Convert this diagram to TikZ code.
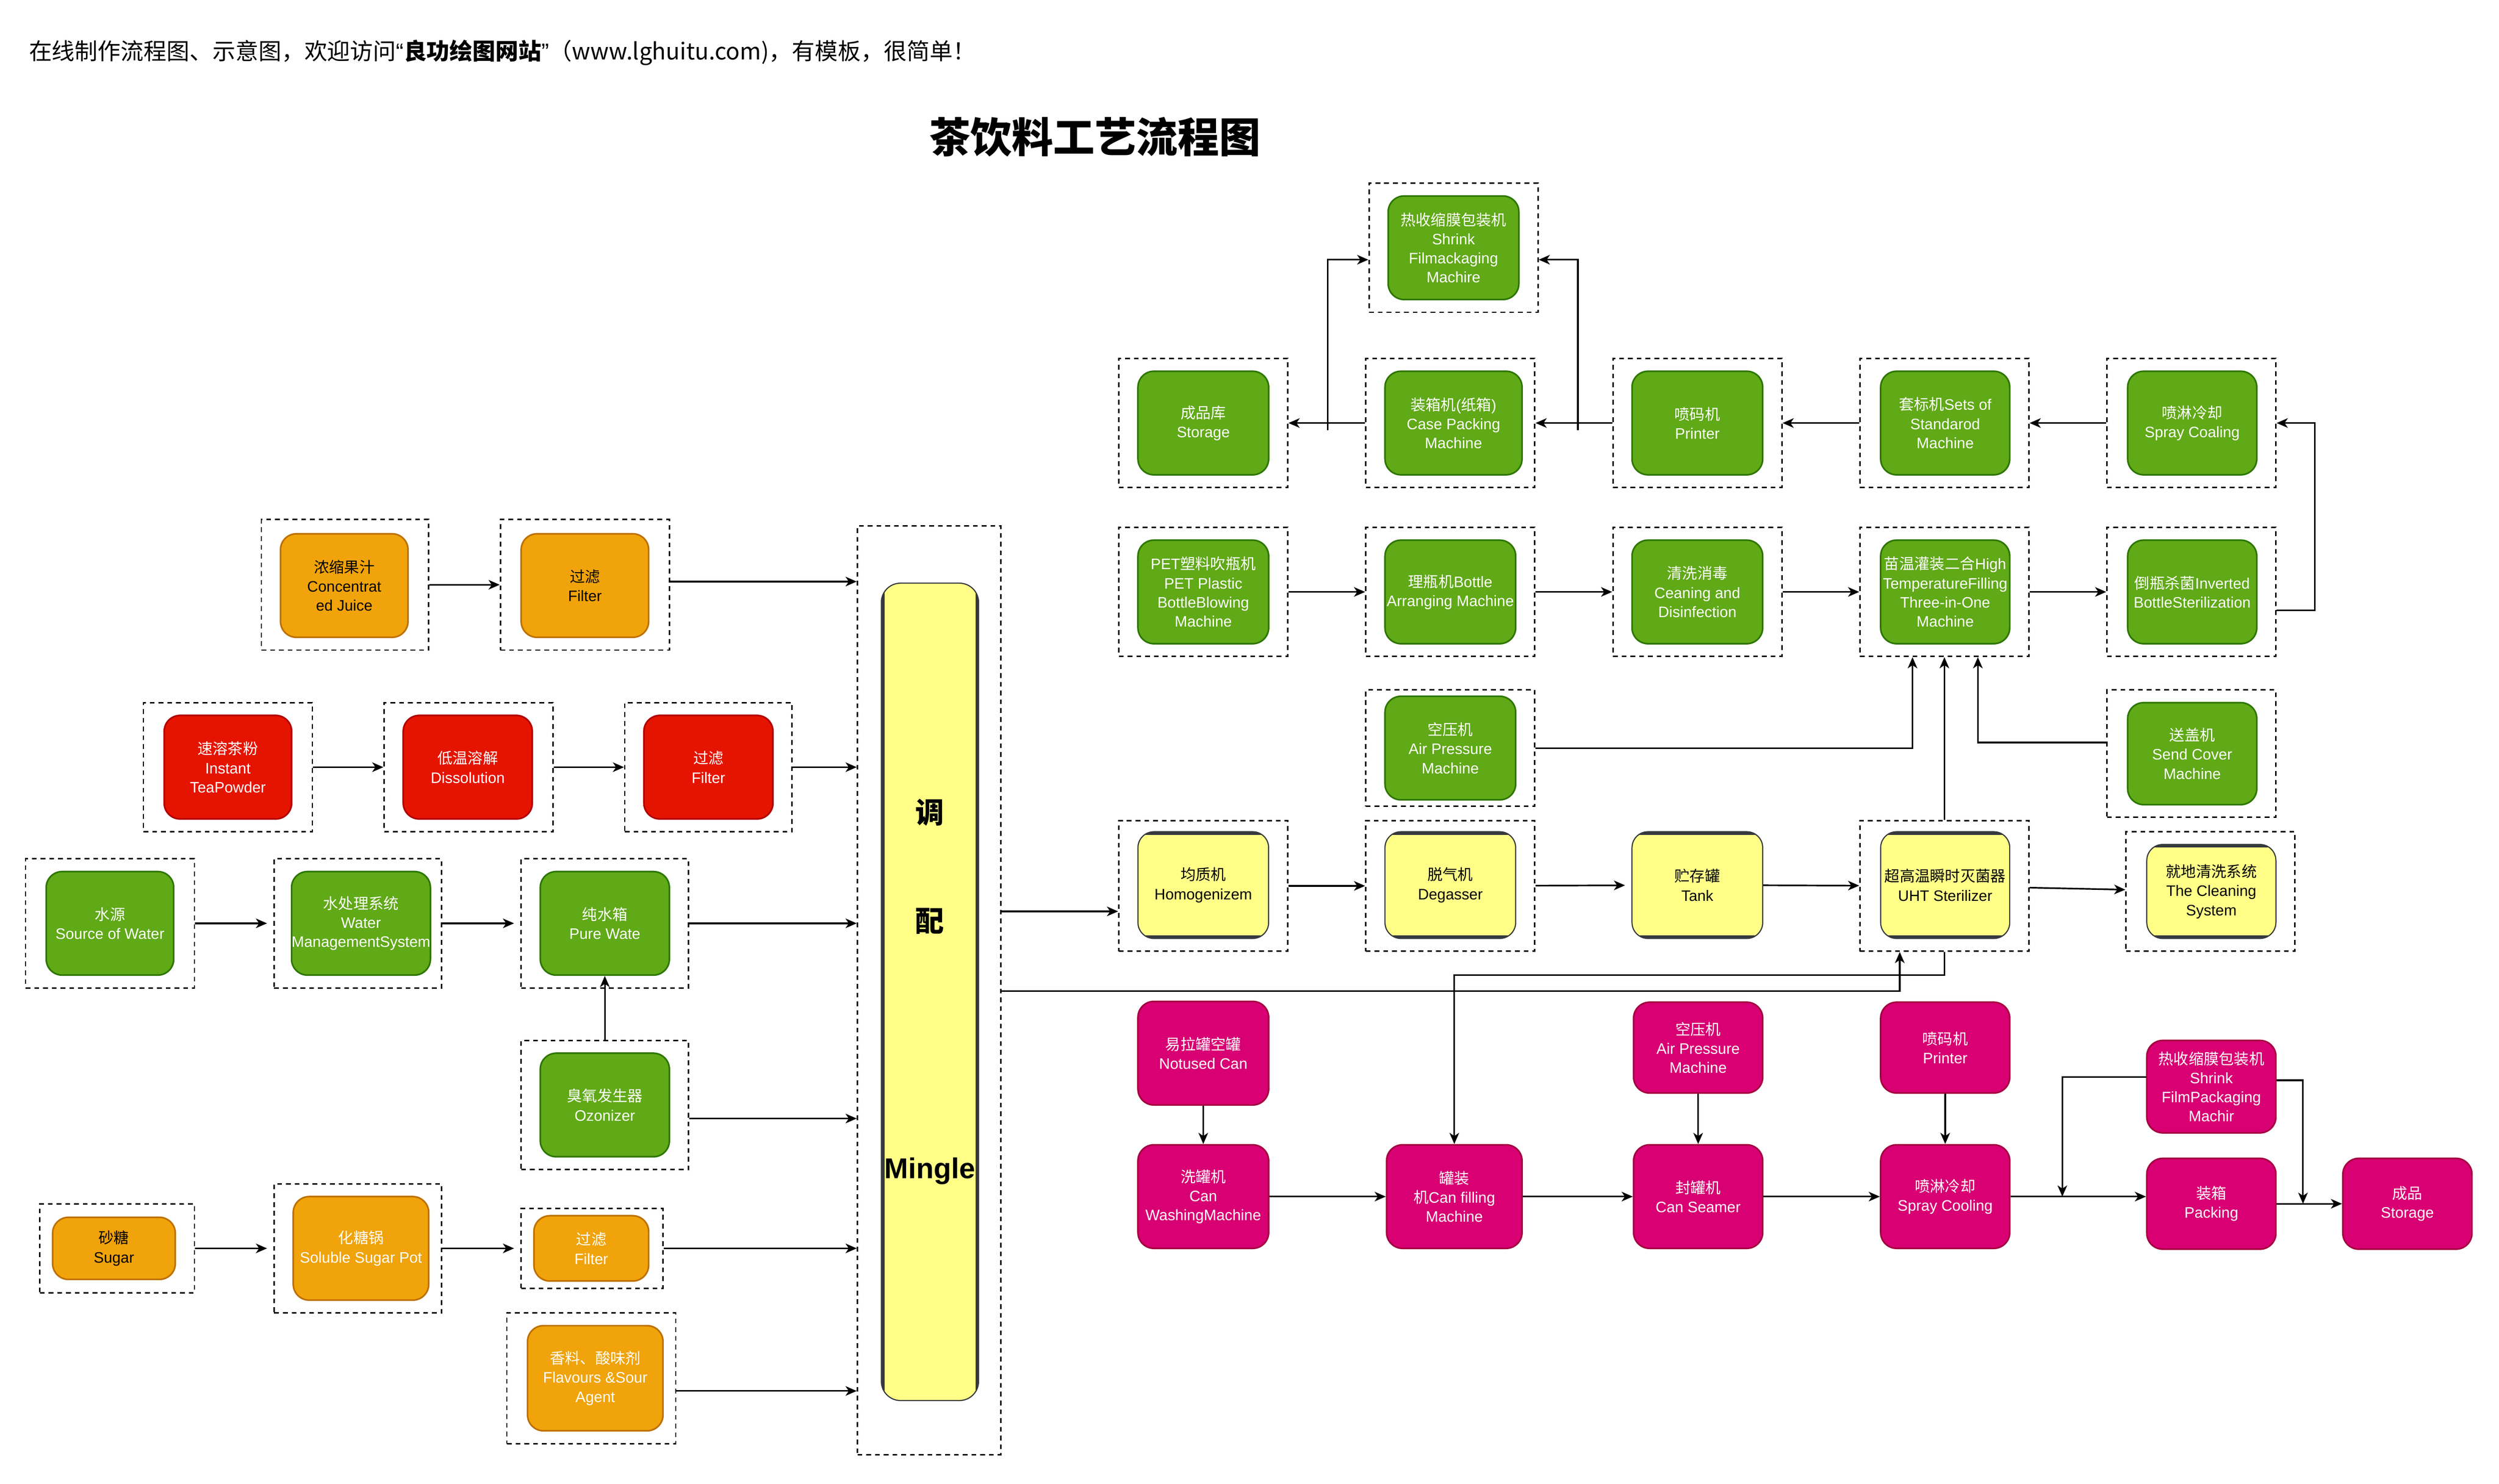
\documentclass[tikz,border=0pt]{standalone}
\usepackage{fontspec}
\setmainfont{Liberation Sans}
\newfontfamily\cjk{Noto Sans CJK SC}
\newfontfamily\latn{Liberation Sans}
\usetikzlibrary{arrows.meta,calc}
\newcommand\zh[1]{{\cjk #1}}
\definecolor{gfill}{HTML}{60A917}\definecolor{gdraw}{HTML}{2D7600}
\definecolor{ofill}{HTML}{F0A30A}\definecolor{odraw}{HTML}{BD7000}
\definecolor{rfill}{HTML}{E51400}\definecolor{rdraw}{HTML}{B20000}
\definecolor{mfill}{HTML}{D80073}\definecolor{mdraw}{HTML}{A50040}
\definecolor{yfill}{HTML}{FFFF88}\definecolor{ydraw}{HTML}{36393D}
\tikzset{
 cont/.style={draw=black, dash pattern=on 3pt off 2.5pt, line width=0.9pt, inner sep=0pt},
 wh/.style 2 args={minimum width=#1pt, minimum height=#2pt},
 basebox/.style={rounded corners=10pt, line width=1pt, align=center, font=\fontsize{9.5}{12}\selectfont, inner sep=0pt},
 gbox/.style={basebox, fill=gfill, draw=gdraw, text=white},
 obox/.style={basebox, fill=ofill, draw=odraw, text=white},
 rbox/.style={basebox, fill=rfill, draw=rdraw, text=white},
 mbox/.style={basebox, fill=mfill, draw=mdraw, text=white},
 ybox/.style={basebox, fill=yfill, draw=ydraw, text=black, line width=0.7pt,
   path picture={\draw[ydraw, line width=4pt] (path picture bounding box.north west) -- (path picture bounding box.north east) (path picture bounding box.south west) -- (path picture bounding box.south east);}},
 mixbox/.style={rounded corners=12pt, fill=yfill, draw=ydraw, line width=0.7pt, inner sep=0pt,
   path picture={\draw[ydraw, line width=4pt] (path picture bounding box.north west) -- (path picture bounding box.south west) (path picture bounding box.north east) -- (path picture bounding box.south east);}},
 mixlbl/.style={font=\bfseries\fontsize{18}{20}\selectfont, inner sep=0pt},
 arr/.style={-{Stealth[length=7pt,width=6pt,inset=2pt]}, line width=1pt},
 gap/.style={shorten >=4pt}
}
\begin{document}
\begin{tikzpicture}[x=1pt,y=-1pt]
\useasboundingbox (0,0) rectangle (1568,931.3);
\fill[white] (0,0) rectangle (1568,931.3);

% header and title
\node[anchor=west, inner sep=0pt, font=\cjk\fontsize{14.4}{16}\selectfont] (hdr) at (18,33)
 {在线制作流程图、示意图，欢迎访问{\latn “}\textbf{良功绘图网站}{\latn ”}（www.lghuitu.com)，有模板，很简单！};
\node[inner sep=0pt, font=\cjk\bfseries\fontsize{26}{30}\selectfont] (title) at (687,86) {茶饮料工艺流程图};

% level coordinates
\coordinate (yA) at (0,365);
\coordinate (yD) at (0,702);
\coordinate (yF) at (0,873);
\coordinate (yG) at (0,572);
\coordinate (yH) at (0,622);
\coordinate (yI) at (0,612);
\coordinate (yJ) at (0,383);
\coordinate (yK) at (0,466);
\coordinate (yL) at (0,163);
\coordinate (yM) at (0,676);
\coordinate (yN) at (0,678);

% ---------- left side ----------
\node[cont, wh={105}{82}] (cJuice) at (216.5,367) {};
\node[obox, text=black, wh={80}{65}] (bJuice) at (216,367.5) {\zh{浓缩果汁}\\Concentrat\\ed Juice};
\node[cont, wh={106}{82}] (cF1) at (367,367) {};
\node[obox, text=black, wh={80}{65}] (bF1) at (367,367.5) {\zh{过滤}\\Filter};

\node[cont, wh={106}{81}] (cTea) at (143,481.5) {};
\node[rbox, wh={80}{65}] (bTea) at (143,481.5) {\zh{速溶茶粉}\\Instant\\TeaPowder};
\node[cont, wh={106}{81}] (cDis) at (294,481.5) {};
\node[rbox, wh={81}{65}] (bDis) at (293.5,481.5) {\zh{低温溶解}\\Dissolution};
\node[cont, wh={105}{81}] (cF2) at (444.5,481.5) {};
\node[rbox, wh={81}{65}] (bF2) at (444.5,481.5) {\zh{过滤}\\Filter};

\node[cont, wh={106}{81}] (cSrc) at (69,579.5) {};
\node[gbox, wh={80}{65}] (bSrc) at (69,579.5) {\zh{水源}\\Source of Water};
\node[cont, wh={105}{81}] (cWMS) at (224.5,579.5) {};
\node[gbox, wh={85}{65}] (bWMS) at (226.5,579.5) {\zh{水处理系统}\\Water\\ManagementSystem};
\node[cont, wh={105}{81}] (cPure) at (379.5,579.5) {};
\node[gbox, wh={81}{65}] (bPure) at (379.5,579.5) {\zh{纯水箱}\\Pure Wate};
\node[cont, wh={105}{81}] (cOzo) at (379.5,693.5) {};
\node[gbox, wh={81}{65}] (bOzo) at (379.5,693.5) {\zh{臭氧发生器}\\Ozonizer};

\node[cont, wh={97}{56}] (cSugar) at (73.5,783.5) {};
\node[obox, text=black, wh={77}{39}] (bSugar) at (71.5,783.5) {\zh{砂糖}\\Sugar};
\node[cont, wh={105}{81}] (cPot) at (224.5,783.5) {};
\node[obox, wh={85}{65}] (bPot) at (226.5,783.5) {\zh{化糖锅}\\Soluble Sugar Pot};
\node[cont, wh={89}{50}] (cF3) at (371.5,783.5) {};
\node[obox, wh={72}{41}] (bF3) at (371,783.5) {\zh{过滤}\\Filter};
\node[cont, wh={106}{82}] (cFlav) at (371,865) {};
\node[obox, wh={85}{66}] (bFlav) at (373.5,865) {\zh{香料、酸味剂}\\Flavours \&Sour\\Agent};

% mixing
\node[cont, wh={90}{583}] (cMix) at (583,621.5) {};
\node[mixbox, wh={61}{513}] (bMix) at (583.5,622.5) {};
\node[mixlbl] (tMix1) at (583.5,510) {\zh{调}};
\node[mixlbl] (tMix2) at (583.5,578) {\zh{配}};
\node[mixlbl] (tMix3) at (583.5,735) {Mingle};

% ---------- right: top row ----------
\node[cont, wh={106}{81}] (cStore) at (755,265.5) {};
\node[gbox, wh={82}{65}] (bStore) at (755,265.5) {\zh{成品库}\\Storage};
\node[cont, wh={106}{81}] (cCase) at (910,265.5) {};
\node[gbox, wh={86}{65}] (bCase) at (912,265.5) {\zh{装箱机}(\zh{纸箱})\\Case Packing\\Machine};
\node[cont, wh={106}{81}] (cPrint) at (1065,265.5) {};
\node[gbox, wh={82}{65}] (bPrint) at (1065,265.5) {\zh{喷码机}\\Printer};
\node[cont, wh={106}{81}] (cSets) at (1220,265.5) {};
\node[gbox, wh={81}{65}] (bSets) at (1220.5,265.5) {\zh{套标机}Sets of\\Standarod\\Machine};
\node[cont, wh={106}{81}] (cSpray) at (1375,265.5) {};
\node[gbox, wh={81}{65}] (bSpray) at (1375.5,265.5) {\zh{喷淋冷却}\\Spray Coaling};
\node[cont, wh={106}{81}] (cShrink) at (912,155.5) {};
\node[gbox, wh={82}{65}] (bShrink) at (912,155.5) {\zh{热收缩膜包装机}\\Shrink\\Filmackaging\\Machire};

% ---------- right: bottle row ----------
\node[cont, wh={106}{81}] (cPET) at (755,371.5) {};
\node[gbox, wh={82}{65}] (bPET) at (755,371.5) {PET\zh{塑料吹瓶机}\\PET Plastic\\BottleBlowing\\Machine};
\node[cont, wh={106}{81}] (cArr) at (910,371.5) {};
\node[gbox, wh={82}{65}] (bArr) at (910,371.5) {\zh{理瓶机}Bottle\\Arranging Machine};
\node[cont, wh={106}{81}] (cClean) at (1065,371.5) {};
\node[gbox, wh={82}{65}] (bClean) at (1065,371.5) {\zh{清洗消毒}\\Ceaning and\\Disinfection};
\node[cont, wh={106}{81}] (cFill) at (1220,371.5) {};
\node[gbox, wh={81}{65}] (bFill) at (1220.5,371.5) {\zh{苗温灌装二合}High\\TemperatureFilling\\Three-in-One\\Machine};
\node[cont, wh={106}{81}] (cInv) at (1375,371.5) {};
\node[gbox, wh={81}{65}] (bInv) at (1375.5,371.5) {\zh{倒瓶杀菌}Inverted\\BottleSterilization};

\node[cont, wh={106}{73}] (cAir) at (910,469.5) {};
\node[gbox, wh={82}{65}] (bAir) at (910,469.5) {\zh{空压机}\\Air Pressure\\Machine};
\node[cont, wh={106}{80}] (cSend) at (1375,473) {};
\node[gbox, wh={81}{64}] (bSend) at (1375.5,473) {\zh{送盖机}\\Send Cover\\Machine};

% ---------- right: yellow row ----------
\node[cont, wh={106}{82}] (cHom) at (755,556) {};
\node[ybox, wh={82}{67}] (bHom) at (755,555.5) {\zh{均质机}\\Homogenizem};
\node[cont, wh={106}{82}] (cDeg) at (910,556) {};
\node[ybox, wh={82}{67}] (bDeg) at (910,555.5) {\zh{脱气机}\\Degasser};
\node[ybox, wh={82}{67}] (bTank) at (1065,555.5) {\zh{贮存罐}\\Tank};
\node[cont, wh={106}{82}] (cUHT) at (1220,556) {};
\node[ybox, wh={81}{67}] (bUHT) at (1220.5,555.5) {\zh{超高温瞬时灭菌器}\\UHT Sterilizer};
\node[cont, wh={106}{75}] (cCIP) at (1387,559.5) {};
\node[ybox, wh={81}{59}] (bCIP) at (1387.5,559.5) {\zh{就地清洗系统}\\The Cleaning\\System};

% ---------- right: can line ----------
\node[mbox, wh={82}{65}] (mCan) at (755,661) {\zh{易拉罐空罐}\\Notused Can};
\node[mbox, wh={82}{65}] (mWash) at (755,751) {\zh{洗罐机}\\Can\\WashingMachine};
\node[mbox, wh={85}{65}] (mFill) at (912.5,751) {\zh{罐装}\\\zh{机}Can filling\\Machine};
\node[mbox, wh={81}{65}] (mSeam) at (1065.5,751) {\zh{封罐机}\\Can Seamer};
\node[mbox, wh={81}{57}] (mAir) at (1065.5,657.5) {\zh{空压机}\\Air Pressure\\Machine};
\node[mbox, wh={81}{57}] (mPrint) at (1220.5,657.5) {\zh{喷码机}\\Printer};
\node[mbox, wh={81}{65}] (mSpray) at (1220.5,751) {\zh{喷淋冷却}\\Spray Cooling};
\node[mbox, wh={81}{58}] (mShrink) at (1387.5,682) {\zh{热收缩膜包装机}\\Shrink\\FilmPackaging\\Machir};
\node[mbox, wh={81}{57}] (mPack) at (1387.5,755.5) {\zh{装箱}\\Packing};
\node[mbox, wh={81}{57}] (mStore) at (1510.5,755.5) {\zh{成品}\\Storage};

% ---------- connectors: left ----------
\draw[arr] (cJuice) -- (cF1);
\draw[arr] (cF1.east |- yA) -- (cMix.west |- yA);
\draw[arr] (cTea) -- (cDis);
\draw[arr] (cDis) -- (cF2);
\draw[arr] (cF2) -- (cF2 -| cMix.west);
\draw[arr, gap] (cSrc) -- (cWMS);
\draw[arr, gap] (cWMS) -- (cPure);
\draw[arr] (cPure) -- (cPure -| cMix.west);
\draw[arr] (cOzo) -- (bPure);
\draw[arr] (cOzo.east |- yD) -- (cMix.west |- yD);
\draw[arr, gap] (cSugar) -- (cPot);
\draw[arr, gap] (cPot) -- (cF3);
\draw[arr] (cF3) -- (cF3 -| cMix.west);
\draw[arr] (cFlav.east |- yF) -- (cMix.west |- yF);

% ---------- connectors: right ----------
\draw[arr] (cMix.east |- yG) -- (cHom.west |- yG);
\draw[arr] (cMix.east |- yH) -| ([xshift=-28pt]cUHT.south);
\draw[arr] (cUHT.south) -- (cUHT.south |- yI) -| (mFill.north);
\draw[arr] (cHom) -- (cDeg);
\draw[arr, gap] (cDeg) -- (bTank);
\draw[arr] (bTank) -- (cUHT);
\draw[arr] (cUHT) -- (cCIP);

\draw[arr] (cPET) -- (cArr);
\draw[arr] (cArr) -- (cClean);
\draw[arr] (cClean) -- (cFill);
\draw[arr] (cFill) -- (cInv);
\draw[arr] (cInv.east |- yJ) -- ++(24,0) |- (cSpray.east);
\draw[arr] (cAir) -| ([xshift=-20pt]cFill.south);
\draw[arr] (cSend.west |- yK) -| ([xshift=21pt]cFill.south);
\draw[arr] (cUHT) -- (cFill);

\draw[arr] (cSpray) -- (cSets);
\draw[arr] (cSets) -- (cPrint);
\draw[arr] (cPrint) -- (cCase);
\draw[arr] (cCase) -- (cStore);
\coordinate (jL) at (833,270);
\coordinate (jR) at (990,270);
\draw[arr] (jL) |- (cShrink.west |- yL);
\draw[arr] (jR) |- (cShrink.east |- yL);

\draw[arr] (mCan) -- (mWash);
\draw[arr] (mWash) -- (mFill);
\draw[arr] (mFill) -- (mSeam);
\draw[arr] (mSeam) -- (mSpray);
\draw[arr] (mAir) -- (mSeam);
\draw[arr] (mPrint) -- (mSpray);
\draw[arr] (mSpray) -- (mSpray -| mPack.west);
\coordinate (jS) at (1294,751);
\coordinate (jT) at (1445,755.5);
\draw[arr] (mShrink.west |- yM) -| (jS);
\draw[arr] (mShrink.east |- yN) -| (jT);
\draw[arr] (mPack) -- (mStore);
\end{tikzpicture}
\end{document}
